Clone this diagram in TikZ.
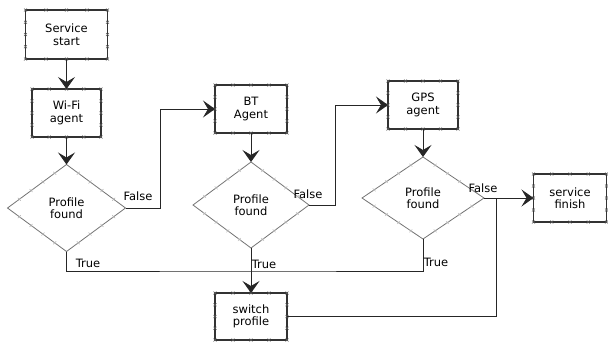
\documentclass[tikz,border=0pt]{standalone}
\usepackage{fontspec}
\setmainfont{DejaVu Sans}
\usetikzlibrary{shapes.geometric,arrows.meta,calc}

\newcommand{\boxticks}[1]{%
  \foreach \f in {0,0.25,0.5,0.75,1}{
    \draw[tickmark] ($(#1.north west)!\f!(#1.north east)$) +(-1.5,-1.5) -- +(1.5,1.5) +(-1.5,1.5) -- +(1.5,-1.5);
    \draw[tickmark] ($(#1.south west)!\f!(#1.south east)$) +(-1.5,-1.5) -- +(1.5,1.5) +(-1.5,1.5) -- +(1.5,-1.5);}
  \foreach \f in {0.25,0.5,0.75}{
    \draw[tickmark] ($(#1.north west)!\f!(#1.south west)$) +(-1.5,-1.5) -- +(1.5,1.5) +(-1.5,1.5) -- +(1.5,-1.5);
    \draw[tickmark] ($(#1.north east)!\f!(#1.south east)$) +(-1.5,-1.5) -- +(1.5,1.5) +(-1.5,1.5) -- +(1.5,-1.5);}}
\newcommand{\diaticks}[1]{%
  \foreach \a/\b in {north/east,east/south,south/west,west/north}
    \foreach \f in {0.2,0.4,0.6,0.8}
      \draw[tickmark,draw=black!30] ($(#1.\a)!\f!(#1.\b)$) +(-1.5,-1.5) -- +(1.5,1.5) +(-1.5,1.5) -- +(1.5,-1.5);}

\begin{document}
\begin{tikzpicture}[x=1pt,y=-1pt,
  txt/.style={font=\fontsize{11.5}{12.5}\selectfont},
  box/.style={txt,draw=black!80,line width=1.2pt,align=center,inner sep=0pt,outer sep=0pt,
    minimum width=72pt,minimum height=48pt},
  decision/.style={txt,diamond,draw=black!55,line width=0.8pt,align=center,inner sep=0pt,outer sep=0pt},
  conn/.style={draw=black!85,line width=0.8pt},
  arr/.style={conn,-{Stealth[length=12pt,width=17pt,inset=5pt]}},
  lbl/.style={txt,inner sep=0pt},
  tickmark/.style={draw=black!65,line width=0.4pt}]
\useasboundingbox (0,0) rectangle (608,341);

\node[box,minimum width=82pt,minimum height=49pt] (start) at (66.5,34.5) {Service\\start};
\node[box,minimum width=69pt] (wifi) at (66.5,113) {Wi-Fi\\agent};
\node[decision,minimum width=118pt,minimum height=87pt] (d1) at (66.5,208) {Profile\\found};
\node[box] (bt) at (251,109) {BT\\Agent};
\node[decision,minimum width=116pt,minimum height=86pt] (d2) at (251,205) {Profile\\found};
\node[box,minimum width=70pt] (gps) at (423,105) {GPS\\agent};
\node[decision,minimum width=122pt,minimum height=82pt] (d3) at (423,198) {Profile\\found};
\node[box,minimum width=73pt] (finish) at (570,198) {service\\finish};
\node[box,minimum height=47pt] (switch) at (251,316.5) {switch\\profile};

\boxticks{start}
\boxticks{wifi}
\boxticks{bt}
\boxticks{gps}
\boxticks{finish}
\boxticks{switch}
\diaticks{d1}
\diaticks{d2}
\diaticks{d3}

\draw[arr] (start.south) -- (wifi.north);
\draw[arr] (wifi.south) -- (d1.north);
\draw[arr] (d1.east) -- ++(35,0) |- (bt.west);
\draw[arr] (bt.south) -- (d2.north);
\draw[arr] (d2.east) -- ++(26,0) |- (gps.west);
\draw[arr] (gps.south) -- (d3.north);
\draw[arr] (d3.east) -- (finish.west);
\coordinate (split) at ($(d3.east)+(12,0)$);
\draw[conn] (split) |- (switch.east);
\coordinate (join) at (d2.south |- 0,271);
\draw[conn] (d1.south) |- (join) -| (d3.south);
\draw[arr] (d2.south) -- (switch.north);

\node[lbl] (f1) at (138,196) {False};
\node[lbl] (f2) at (308,194) {False};
\node[lbl] (f3) at (483,188) {False};
\node[lbl] (t1) at (88,263) {True};
\node[lbl] (t2) at (264,264) {True};
\node[lbl] (t3) at (436,262) {True};
\end{tikzpicture}
\end{document}
